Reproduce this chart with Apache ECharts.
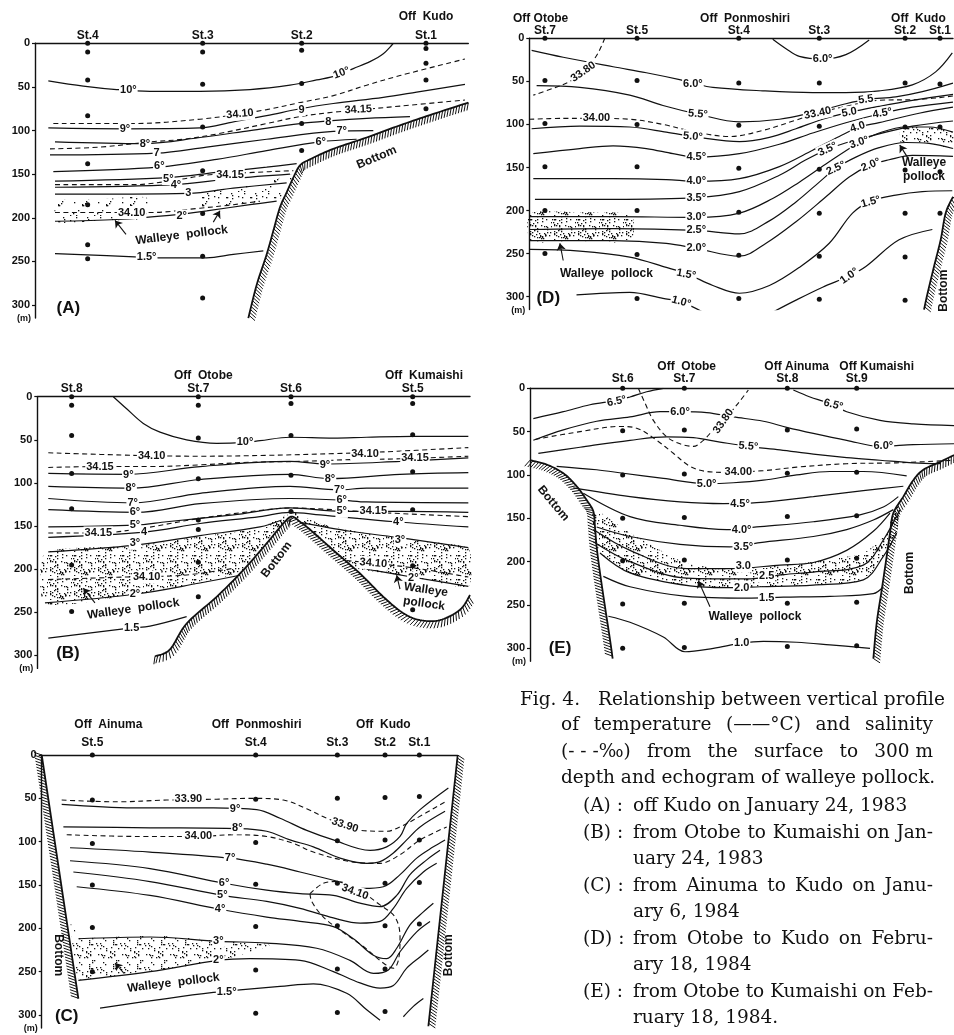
<!DOCTYPE html>
<html><head><meta charset="utf-8">
<script src="https://cdn.jsdelivr.net/npm/echarts@6/dist/echarts.min.js"></script>
<style>html,body{margin:0;padding:0;background:#fff}#c{width:954px;height:1035px}</style>
</head><body><div id="c"></div>
<script>
// ================= DATA (x = distance along section, relative units; y = depth, m) =================
const Y_TICKS = [0, 50, 100, 150, 200, 250, 300];

// ---------- Panel A ----------
const A_stations = ['St.4', 'St.3', 'St.2', 'St.1'];
const A_stationX = [263, 608, 905, 1278];
const A_areas = [['Off  Kudo', 1278]];
const A_sampleDepths = [[0,10,42,83,138,185,231,247],[0,10,47,96,146,195,244,292],[0,8,46,92,123],[0,6,23,42,75]];
const A_t10 = [[145,43],[250,49],[350,53],[450,55],[600,55],[750,53],[870,48],[950,42],[1010,37],[1060,29],[1110,21],[1150,12],[1180,0]];
const A_t9 = [[145,97],[375,98],[600,97],[700,90],[800,83],[900,75],[1000,69],[1150,62],[1250,56],[1395,47]];
const A_t8 = [[165,113],[430,115],[600,108],[750,100],[900,92],[985,89],[1100,86],[1230,84]];
const A_t7 = [[150,128],[470,126],[620,119],[800,110],[1000,101],[1120,100]];
const A_t6 = [[160,147],[475,142],[650,133],[800,123],[960,113],[1070,110]];
const A_t5 = [[165,158],[505,154],[650,148],[800,142],[890,138]];
const A_t4 = [[165,165],[525,162],[700,155],[870,150]];
const A_t3 = [[165,173],[565,172],[700,166],[860,160]];
const A_t2 = [[165,204],[350,202],[540,196],[620,192],[750,185],[830,181]];
const A_t15 = [[165,241],[420,245],[500,246],[620,246],[700,242],[790,238]];
const A_s3410a = [[160,92],[400,92],[600,87],[720,81],[800,76],[900,68],[1000,60],[1100,48],[1200,37],[1395,18]];
const A_s3415a = [[150,121],[300,119],[450,113],[550,110],[650,104],[800,92],[900,84],[1000,79],[1060,77],[1200,72],[1395,65]];
const A_s3415b = [[165,162],[400,162],[540,156],[620,151],[760,148],[880,146]];
const A_s3410b = [[165,194],[450,194],[600,189],[700,185],[780,181]];
const A_bottom = [[1405,68],[1300,81],[1200,94],[1100,108],[1000,121],[930,133],[900,140],[880,154],[860,171],[840,188],[820,215],[800,242],[770,277],[745,315]];
const A_stippleL = [[170,181],[300,179],[440,177],[440,200],[300,203],[170,205]];
const A_stippleR = [[600,172],[700,166],[800,159],[880,150],[860,165],[835,180],[750,184],[650,188],[600,189]];
const A_tLabels = [[385,53,'10°',0],[1025,34,'10°',20],[375,98,'9°',0],[905,76,'9',0],[435,115,'8°',0],[985,90,'8',0],[470,126,'7',0],[1025,101,'7°',0],[478,141,'6°',0],[962,113,'6°',0],[505,155,'5°',0],[528,162,'4°',0],[565,172,'3',0],[545,198,'2°',0],[440,245,'1.5°',0]];
const A_sLabels = [[720,81,'34.10',5],[1075,76,'34.15',3],[690,151,'34.15',0],[395,194,'34.10',0]];
const A_notes = [[545,220,'Walleye  pollock',7],[1130,131,'Bottom',23]];
const A_arrows = [[[378,219],[345,203]],[[640,205],[660,192]]];
const A_letter = [205,304,'(A)'];

// ---------- Panel B ----------
const B_stations = ['St.8', 'St.7', 'St.6', 'St.5'];
const B_stationX = [215, 595, 873, 1238];
const B_areas = [['Off  Otobe', 610], ['Off  Kumaishi', 1272]];
const B_sampleDepths = [[0,10,45,89,130,195,249],[0,10,48,95,143,154,192,232],[0,8,45,91,133],[0,8,44,87,131,196,247]];
const B_t10 = [[340,0],[380,14],[430,31],[480,41],[560,50],[650,54],[735,53],[780,51],[870,47],[1000,48],[1100,47],[1240,46],[1405,46]];
const B_t9 = [[145,89],[385,90],[600,81],[870,75],[975,78],[1200,75],[1405,71]];
const B_t8 = [[145,104],[392,106],[600,96],[870,90],[988,95],[1200,90],[1405,88]];
const B_t7 = [[145,118],[400,123],[600,112],[870,104],[1015,108],[1100,106],[1405,106]];
const B_t6 = [[145,131],[410,134],[600,124],[870,118],[1025,120],[1100,122],[1405,123]];
const B_t5 = [[145,151],[405,149],[500,145],[700,137],[870,129],[1025,133],[1200,133],[1405,134]];
const B_t4 = [[145,163],[432,157],[600,147],[780,139],[870,134],[960,137],[1185,145],[1405,151]];
const B_t3L = [[145,180],[405,172],[600,161],[780,151],[845,143]];
const B_t3R = [[905,146],[1050,156],[1210,164],[1405,175]];
const B_t2L = [[135,239],[405,229],[600,216],[720,207]];
const B_t2R = [[1100,200],[1235,209],[1405,220]];
const B_t15 = [[145,280],[395,268],[450,266],[560,255]];
const B_s3410a = [[145,65],[400,68],[600,69],[800,68],[1000,66],[1150,64],[1405,59]];
const B_s3415a = [[145,82],[300,81],[450,81],[600,79],[750,76],[900,75],[1050,73],[1200,72],[1405,69]];
const B_s3415b = [[145,158],[295,158],[420,153],[600,141],[800,131],[870,129],[1000,131],[1120,134],[1405,139]];
const B_s3410bL = [[145,212],[380,209],[550,207],[700,199]];
const B_s3410bR = [[1040,190],[1120,193],[1250,199],[1405,209]];
const B_bottom = [[465,301],[510,293],[560,263],[650,232],[730,201],[800,170],[850,147],[875,139],[900,145],[930,154],[1000,178],[1080,205],[1150,232],[1210,251],[1260,259],[1320,259],[1380,247],[1410,230]];
const B_stippleL = [[135,181],[405,173],[600,162],[780,152],[860,137],[875,139],[800,170],[730,201],[600,216],[405,229],[135,240]];
const B_stippleR = [[878,133],[960,147],[1100,158],[1250,167],[1405,176],[1405,220],[1235,209],[1110,202],[1060,198],[1000,178],[930,154],[890,142]];
const B_tLabels = [[735,53,'10°',0],[385,91,'9°',0],[392,106,'8°',0],[398,123,'7°',0],[405,134,'6°',0],[405,149,'5°',0],[432,157,'4',0],[405,170,'3°',0],[405,229,'2°',0],[395,268,'1.5',0],[975,79,'9°',0],[990,95,'8°',0],[1018,108,'7°',0],[1025,120,'6°',0],[1025,133,'5°',0],[1195,145,'4°',0],[1200,166,'3°',0],[1240,210,'2°',0]];
const B_sLabels = [[455,69,'34.10',0],[1095,66,'34.10',0],[300,81,'34.15',0],[1245,71,'34.15',0],[295,158,'34.15',0],[1120,133,'34.15',0],[440,209,'34.10',0],[1120,193,'34.10',-5]];
const B_notes = [[400,246,'Walleye  pollock',8],[1275,232,'Walleye\npollock',-8],[830,189,'Bottom',52]];
const B_arrows = [[[285,239],[250,222]],[[1200,223],[1190,207]]];
const B_letter = [204,298,'(B)'];

// ---------- Panel C ----------
const C_stations = ['St.5', 'St.4', 'St.3', 'St.2', 'St.1'];
const C_stationX = [277, 767, 1012, 1155, 1258];
const C_areas = [['Off  Ainuma', 325], ['Off  Ponmoshiri', 770], ['Off  Kudo', 1150]];
const C_sampleDepths = [[0,52,102,150,199,250],[0,51,101,149,198,248,298],[0,50,99,148,197,247,297],[0,49,98,148,197,247,296],[0,48,98,147,195]];
const C_t9 = [[185,57],[400,61],[640,61],[770,63],[840,73],[920,87],[1000,98],[1110,110],[1160,106],[1200,94],[1220,79],[1260,63],[1345,38]];
const C_t8 = [[190,83],[450,84],[712,85],[800,88],[870,98],[940,106],[1020,119],[1100,125],[1140,123],[1180,113],[1220,98],[1260,83],[1335,65]];
const C_t7 = [[210,107],[450,112],[690,119],[800,126],[900,135],[1015,146],[1090,154],[1150,152],[1200,138],[1250,119],[1300,106],[1335,98]];
const C_t6 = [[210,122],[450,131],[672,148],[800,156],[900,160],[1000,162],[1080,171],[1140,175],[1190,162],[1230,138],[1280,121],[1320,110]];
const C_t5 = [[220,135],[450,146],[667,162],[800,169],[900,177],[1000,188],[1080,194],[1140,192],[1180,177],[1220,154],[1270,135],[1310,125]];
const C_t4 = [[230,152],[450,162],[660,178],[800,187],[900,192],[1000,198],[1060,212],[1120,231],[1160,235],[1190,223],[1230,196],[1270,181],[1300,171]];
const C_t3 = [[235,212],[450,210],[655,215],[800,217],[950,223],[1050,237],[1120,252],[1165,248],[1200,227],[1250,204],[1290,192]];
const C_t2 = [[235,260],[450,250],[655,237],[750,235],[900,237],[1000,250],[1080,263],[1140,269],[1180,266],[1220,246],[1260,233],[1285,225]];
const C_t15a = [[300,292],[500,281],[640,274],[720,271],[840,267],[940,264],[1040,275],[1100,294],[1140,306]];
const C_t15b = [[1210,302],[1240,290],[1270,281]];
const C_s3390 = [[185,52],[350,54],[500,52],[650,51],[760,50],[850,52],[920,62],[980,73],[1035,80],[1080,87],[1160,88],[1200,83],[1240,75],[1340,53]];
const C_s3400 = [[200,92],[420,94],[595,94],[700,92],[800,94],[880,102],[940,112],[1050,123],[1140,125],[1200,115],[1260,98],[1340,83]];
const C_s3410 = [[930,160],[970,148],[1010,146],[1070,154],[1140,173],[1185,187],[1200,210],[1195,237],[1180,246],[1150,240],[1090,221],[1020,202],[970,187],[935,169],[930,160]];
const C_wallL = [[125,0],[235,281]];
const C_wallR = [[1373,0],[1285,313]];
const C_stipple = [[212,192],[240,210],[450,208],[650,214],[810,219],[650,238],[450,249],[240,259],[228,250]];
const C_tLabels = [[705,62,'9°',0],[712,84,'8°',0],[690,119,'7°',0],[672,148,'6°',0],[667,162,'5°',0],[660,178,'4°',0],[655,215,'3°',0],[655,237,'2°',0],[680,273,'1.5°',0]];
const C_sLabels = [[565,51,'33.90',0],[1035,81,'33.90',-18],[595,94,'34.00',0],[1065,158,'34.10',-20]];
const C_notes = [[520,263,'Walleye  pollock',7],[175,231,'Bottom',-90],[1345,231,'Bottom',90]];
const C_arrows = [[[372,252],[345,240]]];
const C_letter = [200,302,'(C)'];

// ---------- Panel D ----------
const D_stations = ['St.7', 'St.5', 'St.4', 'St.3', 'St.2', 'St.1'];
const D_stationX = [195, 472, 778, 1020, 1278, 1383];
const D_areas = [['Off Otobe', 182], ['Off  Ponmoshiri', 797], ['Off  Kudo', 1318]];
const D_sampleDepths = [[0,49,99,149,200,250],[0,49,100,149,200,251,302],[0,52,101,151,202,252,302],[0,52,102,152,203,253,303],[0,52,103,153,203,254,304],[0,53,103,155,203]];
const D_t60 = [[155,14],[250,22],[400,33],[500,40],[600,48],[640,52],[700,57],[850,61],[1000,63],[1100,63],[1200,61],[1300,54],[1370,39],[1420,17]];
const D_t60lens = [[880,1],[920,12],[960,21],[1030,24],[1100,19],[1170,2]];
const D_t55 = [[170,55],[300,57],[450,66],[550,78],[655,88],[780,97],[900,94],[1000,86],[1100,76],[1165,71],[1250,68],[1330,62],[1422,52]];
const D_t50 = [[155,105],[300,102],[450,103],[560,109],[655,115],[780,120],[870,115],[950,105],[1030,94],[1110,86],[1200,79],[1300,72],[1422,65]];
const D_t45 = [[160,134],[300,128],[400,125],[500,128],[580,134],[650,138],[780,134],[900,123],[1000,110],[1100,98],[1210,87],[1300,80],[1422,74]];
const D_t40 = [[160,163],[400,163],[560,164],[650,166],[780,163],[900,149],[1000,130],[1080,114],[1140,103],[1200,98],[1320,87],[1422,80]];
const D_t35 = [[165,187],[400,187],[650,185],[780,178],[900,159],[980,141],[1045,129],[1120,119],[1200,111],[1300,102],[1422,96]];
const D_t30 = [[150,207],[400,207],[650,208],[780,203],[880,186],[960,167],[1040,146],[1140,121],[1200,110],[1280,103],[1350,103],[1422,109]];
const D_t25 = [[150,222],[400,221],[650,223],[780,227],[870,212],[950,190],[1020,167],[1070,151],[1130,138],[1200,127],[1280,121],[1350,122],[1422,128]];
const D_t20 = [[150,235],[400,235],[560,238],[650,244],[780,253],[860,238],[950,213],[1040,184],[1110,161],[1175,147],[1230,141],[1300,136],[1422,137]];
const D_t15 = [[150,245],[300,247],[450,254],[560,266],[625,274],[700,287],[780,296],[870,287],[960,266],[1050,238],[1120,203],[1175,189],[1250,182],[1330,178],[1420,177]];
const D_t10a = [[290,298],[450,295],[550,302],[605,306],[680,320]];
const D_t10b = [[870,320],[950,304],[1030,289],[1110,276],[1160,265],[1260,234],[1360,222]];
const D_s3380 = [[375,0],[355,17],[330,31],[310,39],[270,50],[220,58],[160,66]];
const D_s3400 = [[148,94],[250,93],[350,93],[450,94],[550,100],[650,109],[750,114],[850,107],[950,95],[1015,87],[1100,79],[1200,72],[1320,71],[1422,67]];
const D_bottom = [[1422,184],[1400,203],[1385,234],[1365,265],[1345,297],[1335,315]];
const D_stippleL = [[150,203],[300,202],[455,205],[455,235],[300,236],[150,235]];
const D_stippleR = [[1265,102],[1350,103],[1422,109],[1422,128],[1350,122],[1280,121],[1265,121]];
const D_tLabels = [[640,53,'6.0°',0],[1030,24,'6.0°',0],[655,88,'5.5°',-5],[1160,71,'5.5',8],[640,114,'5.0°',-5],[1110,86,'5.0',10],[650,138,'4.5°',0],[1210,87,'4.5°',10],[650,166,'4.0°',0],[1135,103,'4.0',18],[650,185,'3.5°',0],[1045,129,'3.5°',25],[650,208,'3.0°',0],[1140,121,'3.0°',18],[650,222,'2.5°',0],[1070,151,'2.5°',25],[650,244,'2.0°',0],[1175,147,'2.0°',22],[620,274,'1.5°',-10],[1175,190,'1.5°',15],[605,306,'1.0°',-15],[1110,276,'1.0°',35]];
const D_sLabels = [[310,39,'33.80',35],[350,93,'34.00',0],[1015,87,'33.40',12]];
const D_notes = [[380,273,'Walleye  pollock',0],[1335,152,'Walleye\npollock',0],[1395,293,'Bottom',90]];
const D_arrows = [[[250,258],[240,238]],[[1285,138],[1262,124]]];
const D_letter = [205,302,'(D)'];

// ---------- Panel E ----------
const E_stations = ['St.6', 'St.7', 'St.8', 'St.9'];
const E_stationX = [428, 613, 922, 1130];
const E_areas = [['Off  Otobe', 620], ['Off Ainuma', 950], ['Off Kumaishi', 1190]];
const E_sampleDepths = [[0,49,100,150,199,249,300],[0,48,99,149,198,248,299],[0,48,98,148,198,248,298],[0,47,97,147,196,247,297]];
const E_t65a = [[160,35],[250,27],[330,19],[410,14],[450,10],[500,4],[550,0]];
const E_t65b = [[940,2],[990,10],[1030,15],[1060,19],[1100,27],[1200,37],[1300,41],[1422,43]];
const E_t60 = [[160,60],[250,48],[350,38],[450,33],[540,27],[600,27],[680,28],[760,33],[850,38],[920,45],[1000,52],[1100,60],[1200,67],[1300,65],[1422,64]];
const E_t55 = [[175,75],[300,68],[450,60],[560,56],[640,57],[720,62],[805,67],[900,71],[1000,76],[1100,80],[1200,83],[1300,86],[1380,87]];
const E_t50 = [[230,90],[350,94],[430,98],[550,104],[680,110],[760,109],[850,106],[950,100],[1050,96],[1150,96],[1280,101]];
const E_t45 = [[280,115],[450,125],[600,131],[730,133],[830,132],[1000,125],[1150,118],[1270,113]];
const E_t40 = [[310,121],[450,148],[600,158],[740,163],[830,160],[1000,154],[1140,146],[1210,137],[1255,125]];
const E_t35 = [[350,160],[450,171],[600,180],[750,183],[840,178],[1000,171],[1100,163],[1180,152],[1240,140]];
const E_t30 = [[340,163],[450,187],[620,208],[750,208],[900,204],[1000,201],[1100,187],[1180,165],[1230,144]];
const E_t25 = [[340,177],[450,200],[620,219],[800,220],[910,215],[1000,212],[1150,204],[1210,175],[1260,140]];
const E_t20 = [[360,190],[450,213],[630,228],[740,230],[840,229],[1000,227],[1150,221],[1210,194],[1250,167]];
const E_t15 = [[370,217],[450,229],[620,240],[800,242],[910,241],[1050,240],[1180,237],[1210,229]];
const E_t10 = [[385,263],[450,270],[550,287],[615,304],[700,300],[785,294],[850,292],[950,293],[1050,296],[1170,300]];
const E_s3380 = [[475,0],[495,17],[520,37],[560,56],[600,64],[640,67],[670,60],[700,48],[740,33],[775,17],[805,2]];
const E_s3400 = [[165,59],[300,50],[420,44],[470,46],[530,60],[580,75],[630,90],[680,96],[740,97],[850,95],[950,91],[1100,87],[1250,86],[1422,83]];
const E_bottomL = [[150,83],[200,88],[250,98],[290,113],[320,129],[340,142],[345,160],[350,183],[360,213],[375,252],[390,290],[398,312]];
const E_bottomR = [[1422,77],[1380,85],[1330,94],[1300,106],[1270,125],[1240,144],[1230,167],[1220,194],[1205,233],[1190,271],[1180,312]];
const E_stipple = [[340,140],[450,167],[620,202],[750,208],[900,204],[1000,200],[1150,190],[1210,171],[1262,129],[1250,167],[1210,194],[1150,221],[1000,227],[840,229],[630,228],[450,213],[360,190],[345,175]];
const E_tLabels = [[410,15,'6.5°',12],[1060,19,'6.5°',-15],[600,27,'6.0°',0],[1210,67,'6.0°',0],[805,67,'5.5°',-5],[680,110,'5.0°',0],[780,133,'4.5°',0],[785,163,'4.0°',0],[790,183,'3.5°',0],[790,205,'3.0',0],[860,216,'2.5',0],[785,230,'2.0',0],[860,242,'1.5',0],[785,294,'1.0',0]];
const E_sLabels = [[730,38,'33.80',55],[775,97,'34.00',0]];
const E_notes = [[825,263,'Walleye  pollock',0],[220,133,'Bottom',-50],[1290,213,'Bottom',90]];
const E_arrows = [[[690,252],[655,222]]];
const E_letter = [240,300,'(E)'];

// ---------- Caption ----------
const CAPTION_LINES = [
  ['Fig. 4.', 520, null, 700],
  ['Relationship between vertical profile', 598, 933, 700],
  ['of temperature (——°C) and salinity', 561, 933, 725],
  ['(-\u00a0-\u00a0-‰) from the surface to 300\u00a0m', 561, 933, 752],
  ['depth and echogram of walleye pollock.', 561, 933, 778],
  ['(A)\u00a0:', 583, null, 806], ['off Kudo on January 24, 1983', 633, null, 806],
  ['(B)\u00a0:', 583, null, 833], ['from Otobe to Kumaishi on Jan-', 633, 933, 833],
  ['uary 24, 1983', 633, null, 859],
  ['(C)\u00a0:', 583, null, 886], ['from Ainuma to Kudo on Janu-', 633, 933, 886],
  ['ary 6, 1984', 633, null, 912],
  ['(D)\u00a0:', 583, null, 939], ['from Otobe to Kudo on Febru-', 633, 933, 939],
  ['ary 18, 1984', 633, null, 965],
  ['(E)\u00a0:', 583, null, 992], ['from Otobe to Kumaishi on Feb-', 633, 933, 992],
  ['ruary 18, 1984.', 633, null, 1018]
];

// ================= RENDERING =================
const INK = '#111111';
const SANS = '"Liberation Sans", Arial, Helvetica, sans-serif';
const SERIF = '"DejaVu Serif", "Liberation Serif", serif';

const PANELS = [
  { L:{left:35, top:43.3, width:433.3, height:274.8, xMin:105, xMax:1405, stMargin:2, areaGap:20},
    stations:A_stations, stationX:A_stationX, areas:A_areas, samples:A_sampleDepths,
    iso:[A_t10,A_t9,A_t8,A_t7,A_t6,A_t5,A_t4,A_t3,A_t2,A_t15], isoLabels:A_tLabels,
    hal:[A_s3410a,A_s3415a,A_s3415b,A_s3410b], halLabels:A_sLabels,
    bottoms:[{pts:A_bottom, side:-1}], stipples:[{pts:A_stippleL, d:'light'},{pts:A_stippleR, d:'light'}],
    notes:A_notes, arrows:A_arrows, letter:A_letter },
  { L:{left:37.3, top:396.7, width:432.7, height:271.7, xMin:112, xMax:1410, stMargin:2, areaGap:15},
    stations:B_stations, stationX:B_stationX, areas:B_areas, samples:B_sampleDepths,
    iso:[B_t10,B_t9,B_t8,B_t7,B_t6,B_t5,B_t4,B_t3L,B_t3R,B_t2L,B_t2R,B_t15], isoLabels:B_tLabels,
    hal:[B_s3410a,B_s3415a,B_s3415b,B_s3410bL,B_s3410bR], halLabels:B_sLabels,
    bottoms:[{pts:B_bottom, side:1}], stipples:[{pts:B_stippleL, d:'dense'},{pts:B_stippleR, d:'dense'}],
    notes:B_notes, arrows:B_arrows, letter:B_letter },
  { L:{left:41.7, top:755, width:415, height:273, xMin:125, xMax:1370, stMargin:6, areaGap:24},
    stations:C_stations, stationX:C_stationX, areas:C_areas, samples:C_sampleDepths,
    iso:[C_t9,C_t8,C_t7,C_t6,C_t5,C_t4,C_t3,C_t2,C_t15a,C_t15b], isoLabels:C_tLabels,
    hal:[C_s3390,C_s3400,C_s3410], halLabels:C_sLabels,
    bottoms:[{pts:C_wallL, side:1},{pts:C_wallR, side:-1}], stipples:[{pts:C_stipple, d:'medium'}],
    notes:C_notes, arrows:C_arrows, letter:C_letter },
  { L:{left:529.3, top:38.3, width:424.7, height:271.3, xMin:148, xMax:1422, stMargin:2, areaGap:13},
    stations:D_stations, stationX:D_stationX, areas:D_areas, samples:D_sampleDepths,
    iso:[D_t60,D_t60lens,D_t55,D_t50,D_t45,D_t40,D_t35,D_t30,D_t25,D_t20,D_t15,D_t10a,D_t10b], isoLabels:D_tLabels,
    hal:[D_s3380,D_s3400], halLabels:D_sLabels,
    bottoms:[{pts:D_bottom, side:-1}], stipples:[{pts:D_stippleL, d:'dense'},{pts:D_stippleR, d:'medium'}],
    notes:D_notes, arrows:D_arrows, letter:D_letter },
  { L:{left:530, top:388.3, width:424, height:273, xMin:150, xMax:1422, stMargin:4, areaGap:15},
    stations:E_stations, stationX:E_stationX, areas:E_areas, samples:E_sampleDepths,
    iso:[E_t65a,E_t65b,E_t60,E_t55,E_t50,E_t45,E_t40,E_t35,E_t30,E_t25,E_t20,E_t15,E_t10], isoLabels:E_tLabels,
    hal:[E_s3380,E_s3400], halLabels:E_sLabels,
    bottoms:[{pts:E_bottomL, side:1},{pts:E_bottomR, side:-1}], stipples:[{pts:E_stipple, d:'dense'}],
    notes:E_notes, arrows:E_arrows, letter:E_letter }
];

// stipple textures (fixed deterministic dot texture)
function makeDots(n, seed) {
  const size = 24, c = document.createElement('canvas');
  c.width = c.height = size;
  const g = c.getContext('2d');
  g.fillStyle = '#111';
  let s = seed;
  for (let i = 0; i < n; i++) {
    s = (s * 9301 + 49297) % 233280; const x = Math.floor(s / 233280 * size);
    s = (s * 9301 + 49297) % 233280; const y = Math.floor(s / 233280 * size);
    g.fillRect(x, y, 1.3, 1.3);
  }
  return c;
}
const PATTERNS = { light: makeDots(18, 7), medium: makeDots(34, 11), dense: makeDots(56, 5) };

function smoothPts(pts, seg) {
  if (pts.length < 3) return pts;
  const out = [];
  for (let i = 0; i < pts.length - 1; i++) {
    const p0 = pts[Math.max(i - 1, 0)], p1 = pts[i], p2 = pts[i + 1], p3 = pts[Math.min(i + 2, pts.length - 1)];
    for (let k = 0; k < seg; k++) {
      const t = k / seg, t2 = t * t, t3 = t2 * t;
      const f = (a, b, c, d) => 0.5 * (2 * b + (-a + c) * t + (2 * a - 5 * b + 4 * c - d) * t2 + (-a + 3 * b - 3 * c + d) * t3);
      out.push([f(p0[0], p1[0], p2[0], p3[0]), f(p0[1], p1[1], p2[1], p3[1])]);
    }
  }
  out.push(pts[pts.length - 1]);
  return out;
}

function bottomSeries(i, b) {
  return {
    type: 'custom', xAxisIndex: i, yAxisIndex: i, silent: true, z: 4,
    data: [b.pts[0]],
    renderItem: function (params, api) {
      const px = smoothPts(b.pts.map(p => api.coord(p)), 10);
      const kids = [{ type: 'polyline', shape: { points: px }, style: { stroke: INK, lineWidth: 1.8, fill: null } }];
      const step = 3.0, len = 8, ang = 28 * Math.PI / 180;
      let carry = 0;
      for (let k = 0; k < px.length - 1; k++) {
        const a = px[k], c = px[k + 1];
        const dx = c[0] - a[0], dy = c[1] - a[1], L = Math.hypot(dx, dy);
        if (!L) continue;
        const tx = dx / L, ty = dy / L;
        const nx = -ty * b.side, ny = tx * b.side;
        const hx = nx * Math.cos(ang) - ny * Math.sin(ang), hy = nx * Math.sin(ang) + ny * Math.cos(ang);
        let s = carry;
        while (s < L) {
          const x = a[0] + tx * s, y = a[1] + ty * s;
          kids.push({ type: 'line', shape: { x1: x, y1: y, x2: x + hx * len, y2: y + hy * len }, style: { stroke: INK, lineWidth: 1 } });
          s += step;
        }
        carry = s - L;
      }
      return { type: 'group', children: kids };
    }
  };
}

function stippleSeries(i, st) {
  return {
    type: 'custom', xAxisIndex: i, yAxisIndex: i, silent: true, z: 1,
    data: [st.pts[0]],
    renderItem: function (params, api) {
      return { type: 'polygon', shape: { points: st.pts.map(p => api.coord(p)), smooth: 0.2 },
        style: { fill: { image: PATTERNS[st.d], repeat: 'repeat' }, stroke: null } };
    }
  };
}

function textSeries(i, arr, o) {
  return {
    type: 'scatter', xAxisIndex: i, yAxisIndex: i, silent: true, z: o.z || 6, symbolSize: 1,
    itemStyle: { color: 'rgba(0,0,0,0)', opacity: 1 }, clip: false,
    label: { show: true, position: 'inside', formatter: '{b}', color: INK, fontSize: o.fs || 11, opacity: 1,
      fontWeight: 'bold', fontFamily: SANS, lineHeight: (o.fs || 11) + 2,
      backgroundColor: o.bg ? '#fff' : 'transparent', padding: o.bg ? [0, 1] : 0 },
    data: arr.map(a => ({ name: a[2], value: [a[0], a[1]], label: { rotate: a[3] || 0 } }))
  };
}

const grids = [], xAxes = [], yAxes = [], series = [];
PANELS.forEach((p, i) => {
  grids.push({ left: p.L.left, top: p.L.top, width: p.L.width, height: p.L.height });
  xAxes.push({
    gridIndex: i, type: 'value', min: p.L.xMin, max: p.L.xMax, position: 'top',
    axisLine: { show: true, onZero: false, lineStyle: { color: INK, width: 1.4 } },
    axisTick: { show: false }, splitLine: { show: false },
    axisLabel: { show: true, customValues: p.stationX, formatter: v => { const k = p.stationX.indexOf(v); return k >= 0 ? p.stations[k] : ''; },
      margin: p.L.stMargin, color: INK, fontSize: 12, fontWeight: 'bold', fontFamily: SANS }
  });
  yAxes.push({
    gridIndex: i, type: 'value', inverse: true, min: 0, max: 315, interval: 50,
    axisLine: { show: true, onZero: false, lineStyle: { color: INK, width: 1.4 } },
    axisTick: { show: true, length: 3, customValues: Y_TICKS, lineStyle: { color: INK, width: 1.2 } },
    axisLabel: { customValues: Y_TICKS, color: INK, fontSize: 11, fontWeight: 'bold', fontFamily: SANS, margin: 5 },
    splitLine: { show: false },
    name: '(m)', nameLocation: 'end', nameGap: -4,
    nameTextStyle: { align: 'right', verticalAlign: 'top', color: INK, fontSize: 9, fontWeight: 'bold', fontFamily: SANS, padding: [0, 4, 0, 0] }
  });
  p.stipples.forEach(st => series.push(stippleSeries(i, st)));
  p.iso.forEach(line => series.push({
    type: 'line', xAxisIndex: i, yAxisIndex: i, data: line, smooth: 0.35, symbol: 'none', silent: true, z: 2,
    lineStyle: { color: INK, width: 1.2, opacity: 1 }
  }));
  p.hal.forEach(line => series.push({
    type: 'line', xAxisIndex: i, yAxisIndex: i, data: line, smooth: 0.35, symbol: 'none', silent: true, z: 2,
    lineStyle: { color: INK, width: 1.1, type: [5, 3.5], opacity: 1 }
  }));
  p.bottoms.forEach(b => series.push(bottomSeries(i, b)));
  series.push(textSeries(i, p.isoLabels, { bg: true, fs: 11, z: 6 }));
  series.push(textSeries(i, p.halLabels, { bg: true, fs: 11, z: 6 }));
  series.push(textSeries(i, p.notes, { bg: false, fs: 12, z: 8 }));
  series.push(textSeries(i, [p.letter], { bg: false, fs: 17, z: 8 }));
  series.push({
    type: 'lines', coordinateSystem: 'cartesian2d', xAxisIndex: i, yAxisIndex: i, silent: true, z: 8,
    symbol: ['none', 'arrow'], symbolSize: 7, lineStyle: { color: INK, width: 1.1, opacity: 1 },
    data: p.arrows.map(a => ({ coords: a }))
  });
  series.push({
    type: 'scatter', xAxisIndex: i, yAxisIndex: i, silent: true, z: 7, symbolSize: 5,
    itemStyle: { color: INK, opacity: 1 },
    data: p.samples.flatMap((ds, k) => ds.map(d => [p.stationX[k], d]))
  });
  series.push({
    type: 'scatter', xAxisIndex: i, yAxisIndex: i, silent: true, z: 7, symbolSize: 1, clip: false,
    itemStyle: { color: 'rgba(0,0,0,0)', opacity: 1 },
    label: { show: true, position: 'top', distance: p.L.areaGap, formatter: '{b}', color: INK, opacity: 1, fontSize: 12, fontWeight: 'bold', fontFamily: SANS },
    data: p.areas.map(a => ({ name: a[0], value: [a[1], 0] }))
  });
});

// caption with justification
const mctx = document.createElement('canvas').getContext('2d');
function tw(s, size) { mctx.font = size + 'px ' + SERIF; return mctx.measureText(s).width; }
const capSize = Math.max(14, Math.min(18.5, 16 * 280 / tw('off Kudo on January 24, 1983', 16)));
const graphics = [];
CAPTION_LINES.forEach(([text, x0, x1, y]) => {
  const font = capSize + 'px ' + SERIF;
  if (x1 == null) {
    graphics.push({ type: 'text', x: x0, y: y, silent: true, style: { text: text, font: font, fill: '#111', textAlign: 'left', textVerticalAlign: 'middle', align: 'left', verticalAlign: 'middle' } });
    return;
  }
  const words = text.split(' ');
  const widths = words.map(w => tw(w, capSize));
  const total = widths.reduce((s, w) => s + w, 0);
  let gap = words.length > 1 ? (x1 - x0 - total) / (words.length - 1) : 0;
  if (gap < tw(' ', capSize)) gap = tw(' ', capSize);
  let x = x0;
  words.forEach((w, k) => {
    graphics.push({ type: 'text', x: x, y: y, silent: true, style: { text: w, font: font, fill: '#111', textAlign: 'left', textVerticalAlign: 'middle', align: 'left', verticalAlign: 'middle' } });
    x += widths[k] + gap;
  });
});

const chart = echarts.init(document.getElementById('c'), null, { renderer: 'canvas', width: 954, height: 1035 });
chart.setOption({
  backgroundColor: '#ffffff',
  animation: false,
  grid: grids, xAxis: xAxes, yAxis: yAxes, series: series,
  graphic: { elements: graphics }
});
</script></body></html>
